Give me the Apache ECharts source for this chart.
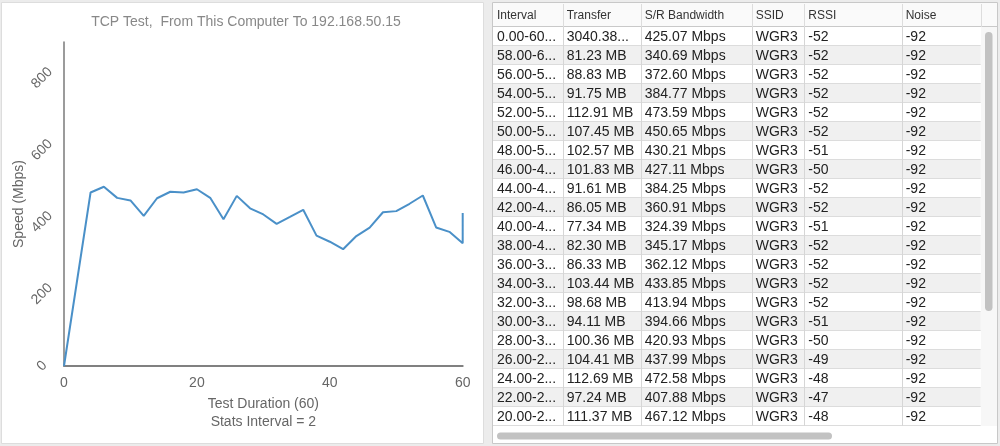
<!DOCTYPE html>
<html><head><meta charset="utf-8">
<script src="https://cdn.jsdelivr.net/npm/echarts@6/dist/echarts.min.js"></script>
<style>html,body{margin:0;padding:0;background:#ececec}#c{width:1000px;height:446px}</style>
</head><body><div id="c"></div>
<script>
// ---------- data ----------
const chartTitle = 'TCP Test,  From This Computer To 192.168.50.15';
const xAxisName = 'Test Duration (60)';
const xAxisSubName = 'Stats Interval = 2';
const yAxisName = 'Speed (Mbps)';
const durationTicks = [0, 20, 40, 60];
const speedTicks = [0, 200, 400, 600, 800];
const testTimes = [0, 2, 4, 6, 8, 10, 12, 14, 16, 18, 20, 22, 24, 26, 28, 30, 32, 34, 36, 38, 40, 42, 44, 46, 48, 50, 52, 54, 56, 58, 60, 60];
const testSpeeds = [0, 241, 482, 498, 467, 460, 417, 466, 484, 482, 491, 467.12, 407.88, 472.58, 437.99, 420.93, 394.66, 413.94, 433.85, 362.12, 345.17, 324.39, 360.91, 384.25, 427.11, 430.21, 450.65, 473.59, 384.77, 372.60, 340.69, 425.07];

const tableHeaders = ['Interval', 'Transfer', 'S/R Bandwidth', 'SSID', 'RSSI', 'Noise'];
const intervals = ['0.00-60.00', '58.00-60.00', '56.00-58.00', '54.00-56.00', '52.00-54.00', '50.00-52.00', '48.00-50.00', '46.00-48.00', '44.00-46.00', '42.00-44.00', '40.00-42.00', '38.00-40.00', '36.00-38.00', '34.00-36.00', '32.00-34.00', '30.00-32.00', '28.00-30.00', '26.00-28.00', '24.00-26.00', '22.00-24.00', '20.00-22.00'];
const transfers = ['3040.38 MB', '81.23 MB', '88.83 MB', '91.75 MB', '112.91 MB', '107.45 MB', '102.57 MB', '101.83 MB', '91.61 MB', '86.05 MB', '77.34 MB', '82.30 MB', '86.33 MB', '103.44 MB', '98.68 MB', '94.11 MB', '100.36 MB', '104.41 MB', '112.69 MB', '97.24 MB', '111.37 MB'];
const bandwidths = ['425.07', '340.69', '372.60', '384.77', '473.59', '450.65', '430.21', '427.11', '384.25', '360.91', '324.39', '345.17', '362.12', '433.85', '413.94', '394.66', '420.93', '437.99', '472.58', '407.88', '467.12'];
const ssids = ['WGR3', 'WGR3', 'WGR3', 'WGR3', 'WGR3', 'WGR3', 'WGR3', 'WGR3', 'WGR3', 'WGR3', 'WGR3', 'WGR3', 'WGR3', 'WGR3', 'WGR3', 'WGR3', 'WGR3', 'WGR3', 'WGR3', 'WGR3', 'WGR3'];
const rssis = [-52, -52, -52, -52, -52, -52, -51, -50, -52, -52, -51, -52, -52, -52, -52, -51, -50, -49, -48, -47, -48];
const noises = [-92, -92, -92, -92, -92, -92, -92, -92, -92, -92, -92, -92, -92, -92, -92, -92, -92, -92, -92, -92, -92];

// ---------- layout / style ----------
const FONT = '"Liberation Sans", Arial, Helvetica, sans-serif';
const colWidths = [69.7, 78, 111, 52.6, 97.4, 79];
const TABLE_LEFT = 493, TABLE_TOP = 27, ROW_H = 19;
const tableWidth = colWidths.reduce((a, b) => a + b, 0);

const measureCtx = document.createElement('canvas').getContext('2d');
function fit(text, width, font) {
  measureCtx.font = font;
  if (measureCtx.measureText(text).width <= width) return text;
  for (let n = text.length - 1; n > 0; n--) {
    const t = text.slice(0, n).replace(/\s+$/, '') + '...';
    if (measureCtx.measureText(t).width <= width) return t;
  }
  return '...';
}

function rowCells(i) {
  return [intervals[i], transfers[i], bandwidths[i] + ' Mbps', ssids[i], String(rssis[i]), String(noises[i])];
}

const rowFont = '14px ' + FONT;
function renderRow(params, api) {
  const i = api.value(1);
  const cs = params.coordSys;
  const c = api.coord([0, i]);
  const h = api.size([0, 1])[1];
  const top = c[1] - h / 2;
  const scale = cs.width / tableWidth;
  const children = [
    { type: 'rect', shape: { x: cs.x, y: top, width: cs.width, height: h }, style: { fill: i % 2 ? '#f0f0f0' : '#ffffff' } },
    { type: 'line', shape: { x1: cs.x, y1: Math.round(top + h) - 0.5, x2: cs.x + cs.width, y2: Math.round(top + h) - 0.5 }, style: { stroke: '#dcdcdc', lineWidth: 1 } }
  ];
  const cells = rowCells(i);
  let x = cs.x;
  colWidths.forEach((w0, k) => {
    const w = w0 * scale;
    if (k > 0) {
      const lx = Math.round(x) + 0.5;
      children.push({ type: 'line', shape: { x1: lx, y1: top, x2: lx, y2: top + h }, style: { stroke: '#d6d6d6', lineWidth: 1 } });
    }
    children.push({
      type: 'text',
      style: {
        text: fit(cells[k], w - 7, rowFont), x: x + 4, y: c[1] + 0.5,
        align: 'left', verticalAlign: 'middle', textAlign: 'left', textVerticalAlign: 'middle',
        fill: '#222', font: rowFont
      }
    });
    x += w;
  });
  return { type: 'group', children: children };
}

// header + frame graphics
const graphics = [
  { type: 'rect', z: -10, shape: { x: 1.5, y: 2.5, width: 482, height: 441 }, style: { fill: '#ffffff', stroke: '#dddddd', lineWidth: 1 } },
  { type: 'rect', z: -10, shape: { x: 492.5, y: 2.5, width: 505, height: 441 }, style: { fill: '#ffffff', stroke: '#c8c8c8', lineWidth: 1 } },
  { type: 'text', style: { text: chartTitle, x: 246, y: 22, align: 'center', verticalAlign: 'middle', textAlign: 'center', textVerticalAlign: 'middle', fill: '#888888', font: '14px ' + FONT } },
  // header background
  { type: 'rect', shape: { x: TABLE_LEFT, y: 3, width: 504, height: TABLE_TOP - 3 }, style: { fill: '#fafafa' } },
  { type: 'line', shape: { x1: TABLE_LEFT, y1: TABLE_TOP - 0.5, x2: 997, y2: TABLE_TOP - 0.5 }, style: { stroke: '#c9c9c9', lineWidth: 1 } },
  // vertical scrollbar track + thumb
  { type: 'rect', shape: { x: TABLE_LEFT + tableWidth, y: TABLE_TOP, width: 997 - TABLE_LEFT - tableWidth, height: 21 * ROW_H }, style: { fill: '#f7f7f7' } },
  { type: 'rect', shape: { x: 985, y: 32, width: 7.5, height: 279, r: 3.7 }, style: { fill: '#c2c2c2' } },
  // horizontal scrollbar thumb
  { type: 'rect', shape: { x: 497, y: 432.5, width: 335, height: 7, r: 3.5 }, style: { fill: '#c2c2c2' } }
];
{
  let x = TABLE_LEFT;
  const hf = '12px ' + FONT;
  tableHeaders.forEach((hd, k) => {
    if (k > 0) graphics.push({ type: 'line', shape: { x1: Math.round(x) + 0.5, y1: 4, x2: Math.round(x) + 0.5, y2: TABLE_TOP }, style: { stroke: '#dddddd', lineWidth: 1 } });
    graphics.push({ type: 'text', style: { text: hd, x: x + 4, y: 16, align: 'left', verticalAlign: 'middle', textAlign: 'left', textVerticalAlign: 'middle', fill: '#333333', font: hf } });
    x += colWidths[k];
  });
  graphics.push({ type: 'line', shape: { x1: Math.round(x) + 0.5, y1: 4, x2: Math.round(x) + 0.5, y2: TABLE_TOP }, style: { stroke: '#dddddd', lineWidth: 1 } });
}

const chart = echarts.init(document.getElementById('c'), null, { renderer: 'canvas' });
chart.setOption({
  animation: false,
  backgroundColor: '#ececec',
  textStyle: { fontFamily: FONT },
  graphic: graphics,
  grid: [
    { left: 64, top: 42, width: 398.7, height: 324 },
    { left: TABLE_LEFT, top: TABLE_TOP, width: tableWidth, height: intervals.length * ROW_H }
  ],
  xAxis: [
    {
      gridIndex: 0, type: 'value', min: durationTicks[0], max: durationTicks[durationTicks.length - 1], interval: durationTicks[1] - durationTicks[0],
      name: xAxisName + '\n' + xAxisSubName, nameLocation: 'middle', nameGap: 28,
      nameTextStyle: { color: '#666666', fontSize: 14, lineHeight: 18, fontFamily: FONT },
      axisLine: { show: true, lineStyle: { color: '#808080', width: 2 } },
      axisTick: { show: false }, splitLine: { show: false },
      axisLabel: { color: '#666666', fontSize: 14, margin: 10, fontFamily: FONT }
    },
    { gridIndex: 1, type: 'value', min: 0, max: 1, show: false }
  ],
  yAxis: [
    {
      gridIndex: 0, type: 'value', min: speedTicks[0], max: 900, interval: speedTicks[1] - speedTicks[0],
      name: yAxisName, nameLocation: 'middle', nameGap: 37,
      nameTextStyle: { color: '#666666', fontSize: 14, fontFamily: FONT },
      axisLine: { show: true, lineStyle: { color: '#7a7a7a', width: 1.5 } },
      axisTick: { show: false }, splitLine: { show: false },
      axisLabel: { color: '#666666', fontSize: 14, rotate: 45, align: 'center', verticalAlign: 'middle', margin: 22, showMaxLabel: false, fontFamily: FONT }
    },
    { gridIndex: 1, type: 'category', data: intervals, inverse: true, show: false }
  ],
  series: [
    {
      type: 'line', xAxisIndex: 0, yAxisIndex: 0,
      data: testTimes.map((t, i) => [t, testSpeeds[i]]),
      showSymbol: false, symbol: 'none', silent: true,
      lineStyle: { color: '#4a90c8', width: 2 }
    },
    {
      type: 'custom', xAxisIndex: 1, yAxisIndex: 1, silent: true,
      data: intervals.map((_, i) => [0.5, i]),
      renderItem: renderRow, clip: false
    }
  ]
});
</script>
</body></html>
